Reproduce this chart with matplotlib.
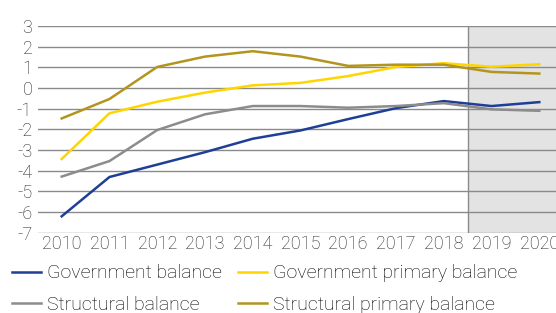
import matplotlib
matplotlib.use("Agg")
from matplotlib import pyplot as plt

plt.rcParams['font.family'] = ['Roboto', 'DejaVu Sans']
plt.rcParams['font.weight'] = 'light'
plt.rcParams['axes.unicode_minus'] = False

years = list(range(2010, 2021))
gov_balance = [-6.2, -4.3, -3.7, -3.1, -2.45, -2.05, -1.5, -0.97, -0.63, -0.87, -0.68]
gov_primary = [-3.43, -1.22, -0.66, -0.22, 0.13, 0.25, 0.58, 1.02, 1.2, 1.03, 1.15]
structural = [-4.28, -3.53, -2.03, -1.27, -0.87, -0.87, -0.95, -0.87, -0.73, -1.03, -1.1]
struct_primary = [-1.47, -0.53, 1.02, 1.52, 1.78, 1.52, 1.07, 1.13, 1.13, 0.78, 0.7]
yticks = list(range(-7, 4))

fig = plt.figure(figsize=(5.56, 3.13), dpi=100)
ax = fig.add_axes([0.068, 0.256, 0.932, 0.661])

# forecast shading
ax.axvspan(2018.5, 2020.5, color="#e3e3e3", zorder=0, lw=0)
ax.axvline(2018.5, color="#8a8a8a", lw=1, zorder=1)
for t in yticks:
    ax.axhline(t, color="#8a8a8a", lw=1, zorder=1)

l1, = ax.plot(years, gov_balance, color="#1f3e96", lw=1.8, zorder=3)
l2, = ax.plot(years, gov_primary, color="#ffd500", lw=1.8, zorder=3)
l3, = ax.plot(years, structural, color="#8c8c8c", lw=1.8, zorder=3)
l4, = ax.plot(years, struct_primary, color="#b3951d", lw=1.8, zorder=3)

ax.set_xlim(2009.5, 2020.35)
ax.set_ylim(-7, 3)
ax.set_yticks(yticks)
ax.set_yticklabels([str(t) for t in yticks])
ax.set_xticks(years)
ax.set_xticklabels([str(y) for y in years])
ax.tick_params(length=0, labelsize=13, colors="#222222", pad=4)
ax.tick_params(axis="x", pad=1.5)
for s in ax.spines.values():
    s.set_visible(False)

fig.legend([l1, l3, l2, l4],
           ["Government balance", "Structural balance",
            "Government primary balance", "Structural primary balance"],
           ncol=2, loc="upper left", bbox_to_anchor=(0.022, 0.155),
           frameon=False, fontsize=14, handlelength=1.5, handletextpad=0.3,
           columnspacing=0.8, labelspacing=0.68, borderaxespad=0, borderpad=0)

fig.savefig("out.png", dpi=100)
